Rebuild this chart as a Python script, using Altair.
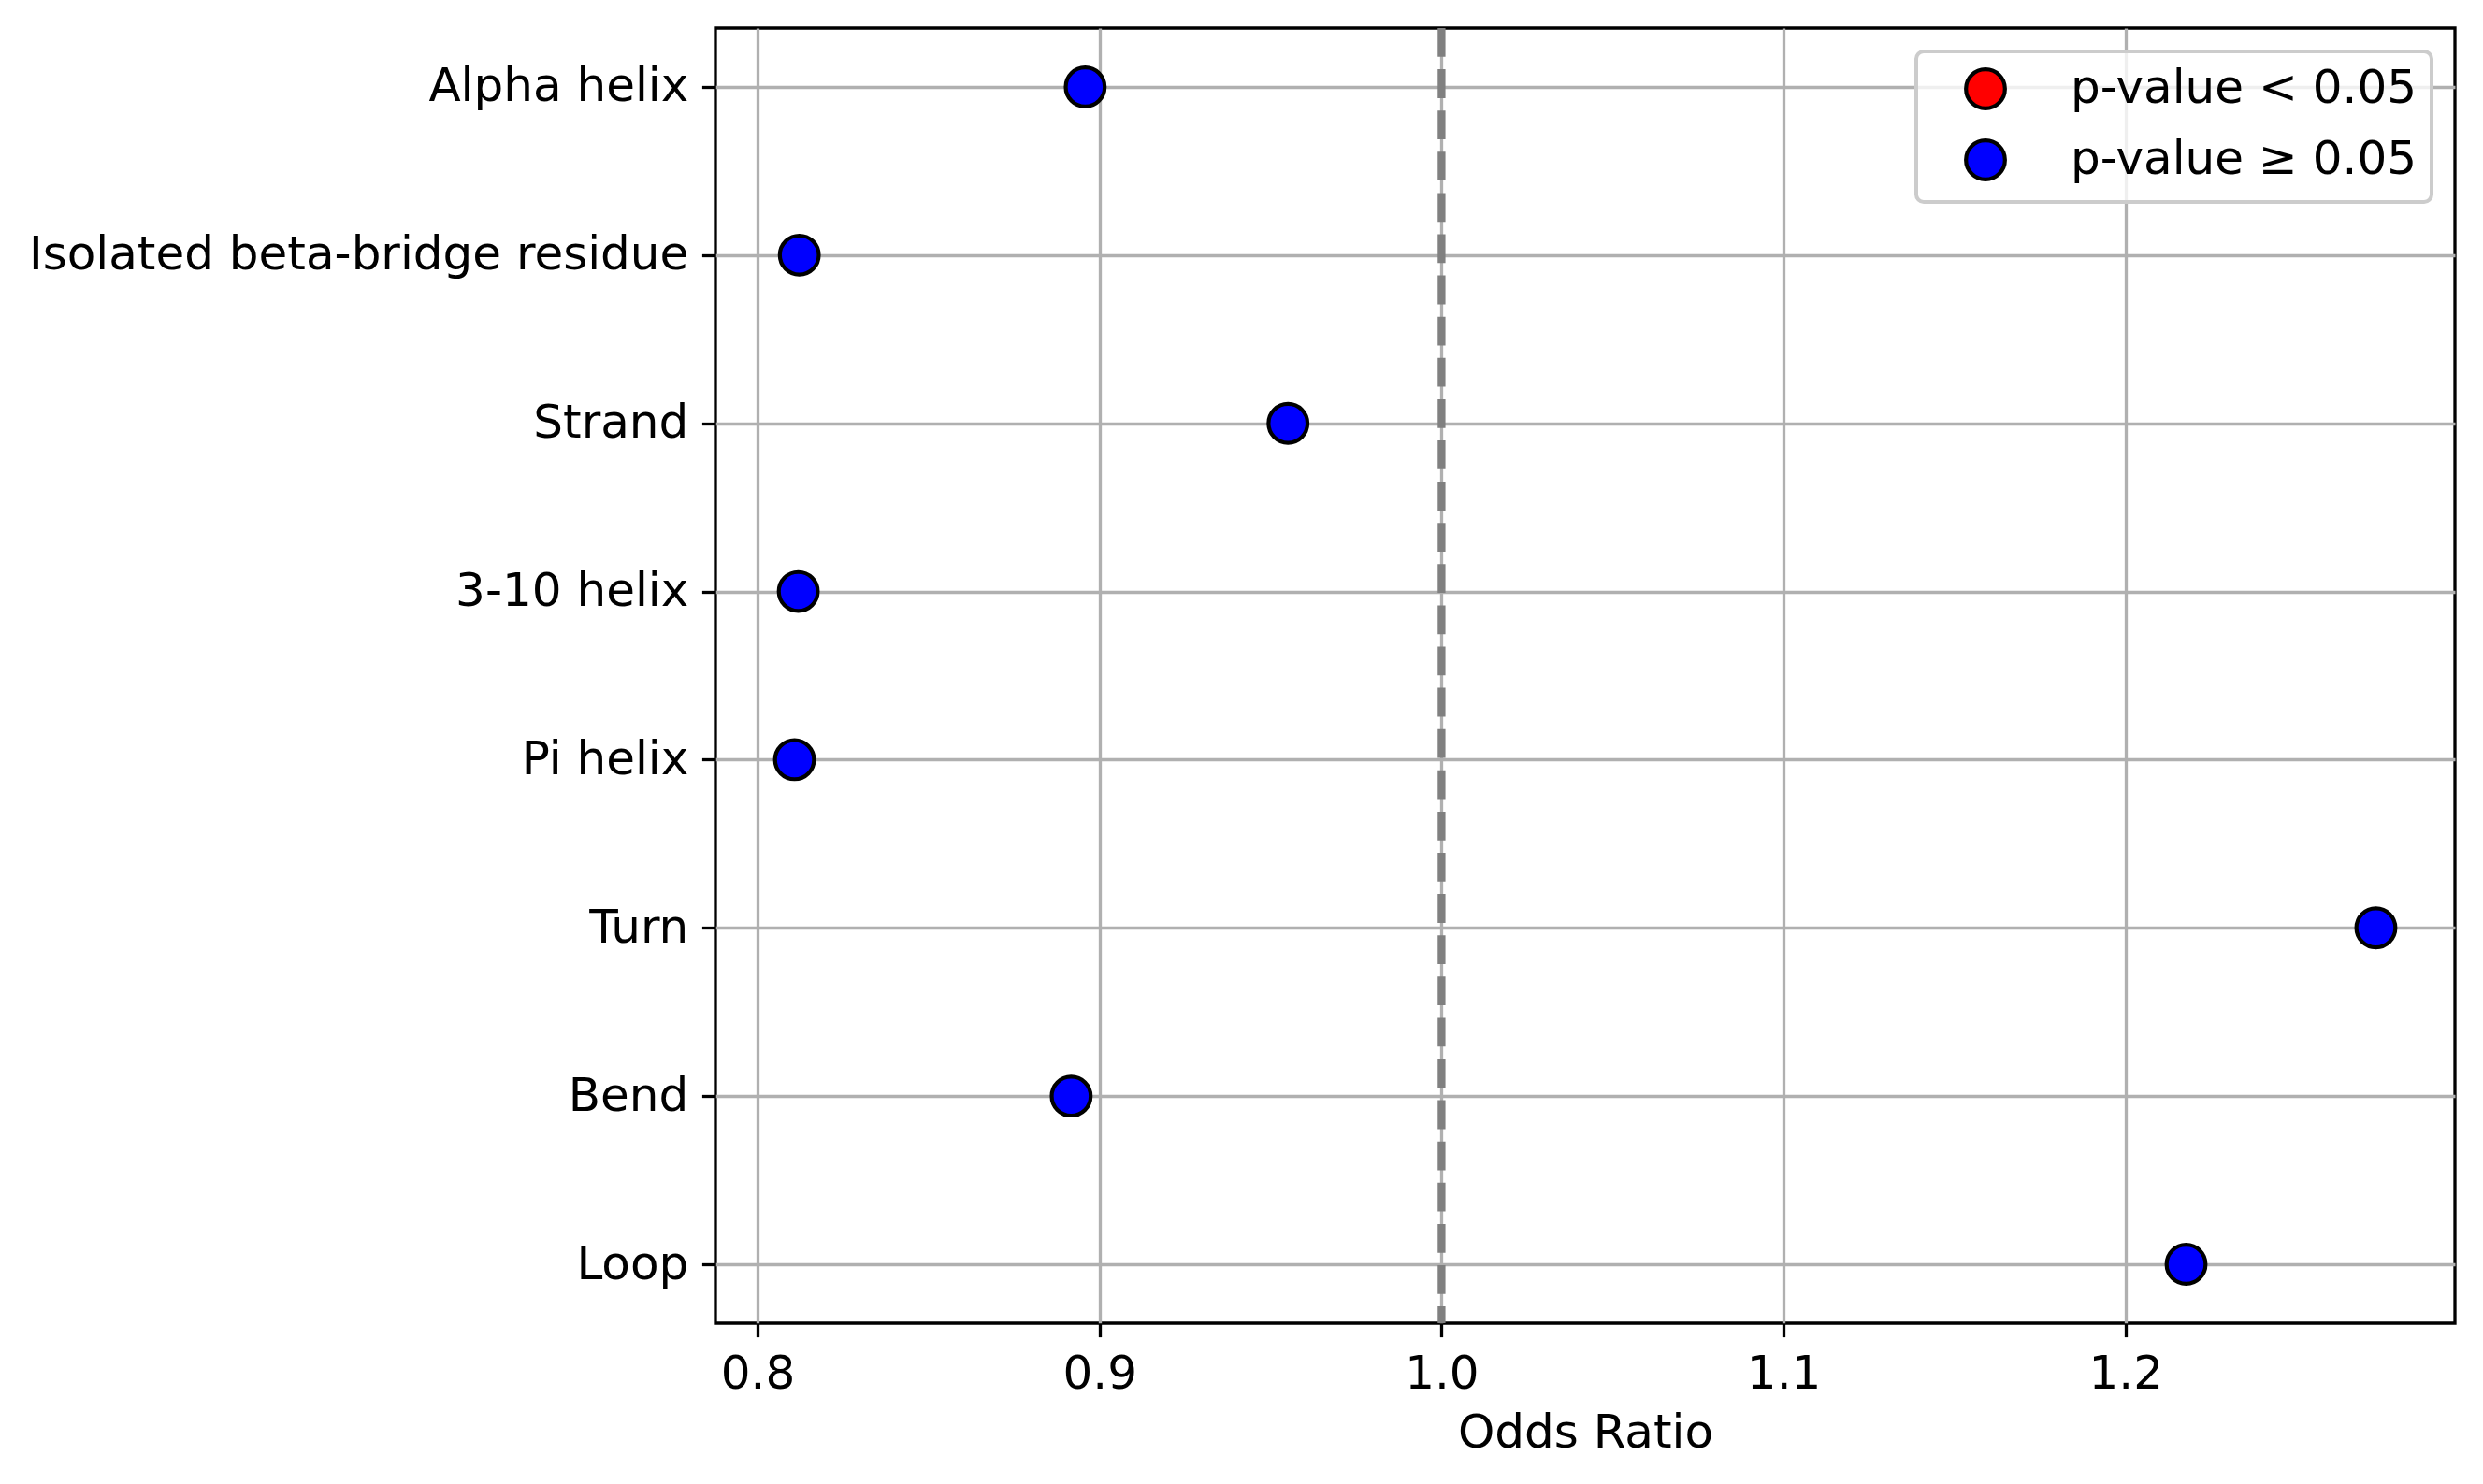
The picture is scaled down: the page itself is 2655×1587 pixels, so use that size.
import altair as alt
import pandas as pd

categories = ["Alpha helix", "Isolated beta-bridge residue", "Strand", "3-10 helix",
              "Pi helix", "Turn", "Bend", "Loop"]
odds_ratios = [0.8958, 0.8122, 0.9551, 0.8119, 0.8108, 1.2732, 0.8917, 1.2177]
significance = ["p-value ≥ 0.05"] * 8
legend_labels = ["p-value < 0.05", "p-value ≥ 0.05"]
legend_colors = ["red", "blue"]
x_ticks = [0.8, 0.9, 1.0, 1.1, 1.2]
ref_value = [1.0]

df = pd.DataFrame({"cat": categories, "or": odds_ratios, "sig": significance})
ref = pd.DataFrame({"v": ref_value})

FONT = "DejaVu Sans"
xmin, xmax = min(odds_ratios), max(odds_ratios)
pad = 0.05 * (xmax - xmin)
xscale = alt.Scale(domain=[xmin - pad, xmax + pad], nice=False, zero=False)

points = alt.Chart(df).mark_point(
    filled=True, shape="circle", size=1736, stroke="black", strokeWidth=4.2, opacity=1
).encode(
    x=alt.X("or:Q", scale=xscale, title="Odds Ratio",
            axis=alt.Axis(values=x_ticks, format=".1f")),
    y=alt.Y("cat:N", sort=categories, title=None,
            scale=alt.Scale(type="point", padding=0.35)),
    color=alt.Color("sig:N", scale=alt.Scale(domain=legend_labels, range=legend_colors),
                    legend=alt.Legend(title=None)),
)

rule = alt.Chart(ref).mark_rule(
    color="gray", strokeWidth=8.3, strokeDash=[30.8, 13.3]
).encode(x=alt.X("v:Q", scale=xscale))

chart = alt.layer(points, rule).properties(
    width=1860, height=1385,
    autosize=alt.AutoSizeParams(type="none"),
    padding={"left": 757, "top": 22, "right": 22, "bottom": 164},
).configure_view(
    stroke="black", strokeWidth=3.3
).configure_axis(
    zindex=1,
    domain=False,
    grid=True, gridColor="#b0b0b0", gridWidth=3.3,
    ticks=True, tickColor="black", tickWidth=3.3, tickSize=14.6,
    labelFont=FONT, labelFontSize=50, labelColor="black", labelPadding=14.6,
    titleFont=FONT, titleFontSize=50, titleColor="black", titleFontWeight="normal",
    titlePadding=13, labelLimit=2000,
).configure_legend(
    orient="top-right", offset=25, padding=15,
    fillColor="rgba(255,255,255,0.8)", strokeColor="#cccccc", strokeWidth=4,
    cornerRadius=8,
    symbolType="circle", symbolSize=1736, symbolStrokeColor="black",
    symbolStrokeWidth=4.2, symbolOpacity=1, symbolOffset=34,
    labelFont=FONT, labelFontSize=50, labelColor="black", labelOffset=66,
    labelLimit=2000, rowPadding=16,
)

chart.save("out.html", embed_options={"renderer": "svg", "actions": False})
